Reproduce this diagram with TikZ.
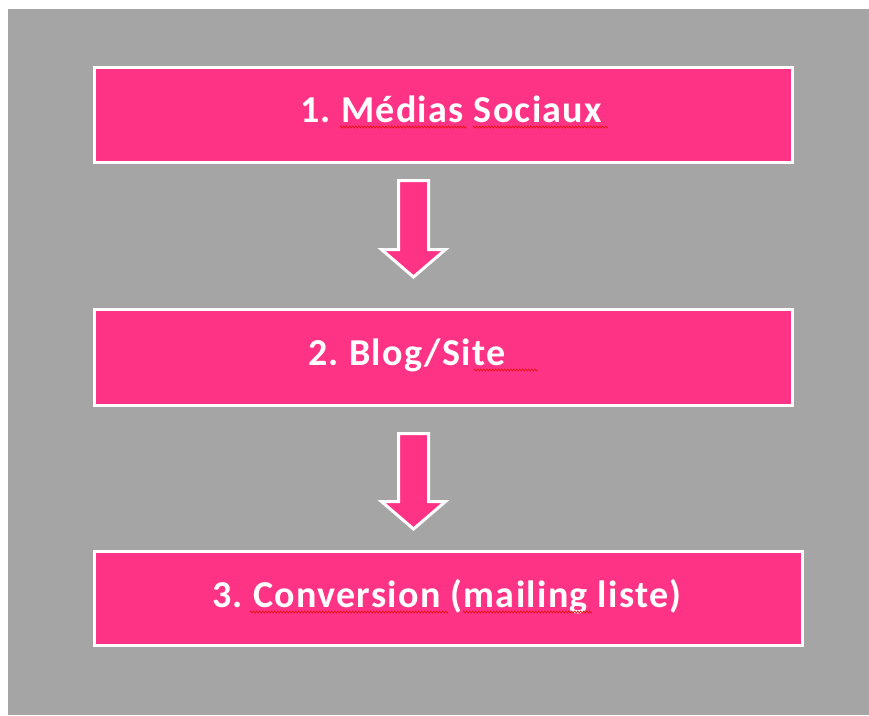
\documentclass[tikz,border=0pt]{standalone}
\usepackage{fontspec}
\setmainfont{Carlito}[LetterSpace=3.5]
\usetikzlibrary{decorations.pathmorphing}
\definecolor{bgray}{RGB}{165,165,165}
\definecolor{pinkbox}{RGB}{255,51,133}
\definecolor{squig}{RGB}{230,20,20}
\tikzset{
  stepbox/.style={draw=white, line width=3pt, fill=pinkbox, inner sep=0pt, anchor=north west},
  steptext/.style={text=white, font=\fontsize{38}{42}\selectfont\bfseries, inner sep=0pt, anchor=base west},
  downarrow/.style={draw=white, line width=3pt, fill=pinkbox, line join=miter},
  spell/.style={draw=squig, line width=0.7pt, decorate, decoration={zigzag, segment length=3pt, amplitude=1pt}}
}
\begin{document}
\begin{tikzpicture}[x=1pt,y=-1pt]
\useasboundingbox (0,0) rectangle (869,715);
\fill[white] (0,0) rectangle (869,715);
\fill[bgray] (8,9) rectangle (869,715);

\node[stepbox, minimum width=698pt, minimum height=95pt] (b1) at (92.5,65.5) {};
\node[stepbox, minimum width=698pt, minimum height=96pt] (b2) at (92.5,307.5) {};
\node[stepbox, minimum width=708pt, minimum height=94pt] (b3) at (92.5,549.5) {};

\node[steptext] (t1) at (300,122) {1.\hspace{-3pt} Médias Sociaux};
\node[steptext] (t2) at (308,365) {2.\hspace{-3pt} Blog/Site};
\node[steptext] (t3) at (212,607) {3.\hspace{-3pt} Conversion (mailing liste)};

\draw[spell] (340,127) -- (467,127);
\draw[spell] (473,127) -- (608,127);
\draw[spell] (474,370) -- (538,370);
\draw[spell] (250,612) -- (448,612);
\draw[spell] (463,612) -- (592,612);

% arrows
\coordinate (a1top) at (413.5,180.5);
\coordinate (a2top) at (413.5,433.5);
\draw[downarrow] (a1top) ++(-15,0) -- ++(30,0) -- ++(0,69) -- ++(17,0) -- (413.5,277) -- (381.5,249.5) -- ++(17,0) -- cycle;
\draw[downarrow] (a2top) ++(-15,0) -- ++(30,0) -- ++(0,68) -- ++(17,0) -- (413.5,529) -- (381.5,501.5) -- ++(17,0) -- cycle;
\end{tikzpicture}
\end{document}
